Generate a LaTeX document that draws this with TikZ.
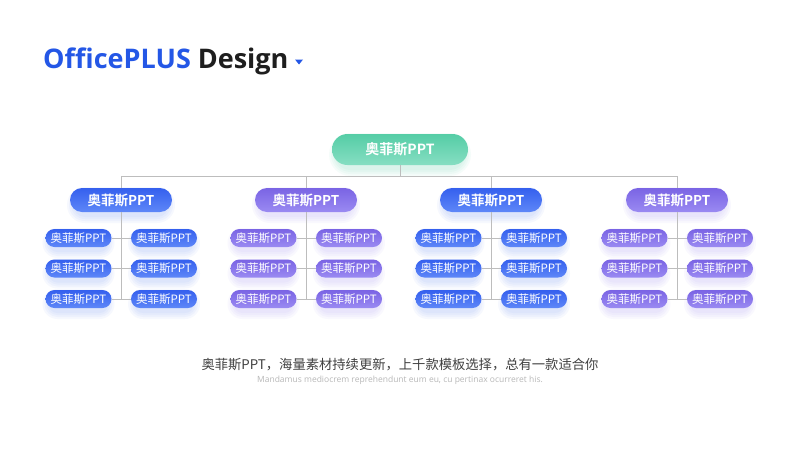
\documentclass[tikz,border=0pt]{standalone}
\usepackage{fontspec}
\setmainfont{Open Sans}
\newfontfamily\cjk{Noto Sans CJK SC}[BoldFont={Noto Sans CJK SC Bold}]
\newfontfamily\opensans{Open Sans}
\definecolor{titleblue}{HTML}{2457E6}
\definecolor{titleblack}{HTML}{1E1E1E}
\definecolor{greenT}{HTML}{55CDA6}
\definecolor{greenB}{HTML}{86DEC2}
\definecolor{blueT}{HTML}{3560EE}
\definecolor{blueB}{HTML}{5E87F8}
\definecolor{purpT}{HTML}{7A64E4}
\definecolor{purpB}{HTML}{9A8AF2}
\definecolor{linegray}{HTML}{BDBDBD}
\tikzset{
  gblue/.style={top color=blueT, bottom color=blueB},
  gpurp/.style={top color=purpT, bottom color=purpB},
  topbox/.style={rounded corners=15.5pt, minimum width=136pt, minimum height=31pt, inner sep=0pt,
     top color=greenT, bottom color=greenB, text=white, font=\cjk\bfseries\fontsize{14}{14}\selectfont},
  lvlbox/.style={rounded corners=12pt, minimum width=102pt, minimum height=24pt, inner sep=0pt,
     text=white, font=\cjk\bfseries\fontsize{13.5}{13.5}\selectfont},
  leafbox/.style={rounded corners=9pt, minimum width=66pt, minimum height=18pt, inner sep=0pt,
     text=white, font=\cjk\fontsize{11.5}{11.5}\selectfont},
  conn/.style={draw=linegray, line width=0.9pt}
}
% soft coloured shadow: x, y, width, height, colour
\newcommand\softshade[5]{%
  \foreach \k in {0,2,4,6}{%
    \pgfmathsetmacro\rr{#4/2+\k}%
    \fill[#5, opacity=0.055, rounded corners=\rr pt]
      ({#1-#3/2-\k},{#2+5-#4/2-\k}) rectangle ({#1+#3/2+\k},{#2+5+#4/2+\k});
  }%
}
\begin{document}
\begin{tikzpicture}[x=1pt,y=-1pt]
\useasboundingbox (0,0) rectangle (800,450);
\fill[white] (0,0) rectangle (800,450);
% title
\node[anchor=base west, inner sep=0pt] (title) at (43,68)
  {\fontsize{27}{27}\selectfont\bfseries\color{titleblue}OfficePLUS \color{titleblack}Design};
\fill[titleblue] (295,59.5) -- (303,59.5) -- (299,64.5) -- cycle;
% shadows
\softshade{400}{149.5}{130}{31}{greenT}
\foreach \cx/\col in {121/blueB, 306/purpB, 491/blueB, 677/purpB}{
  \softshade{\cx}{200}{96}{24}{\col}
  \foreach \yy in {238, 268.5, 299}{
    \softshade{\cx-42.5}{\yy}{60}{18}{\col}
    \softshade{\cx+43}{\yy}{60}{18}{\col}
  }
}
% top node
\node[topbox] (top) at (400,149.5) {奥菲斯PPT};
% groups
\foreach \i/\cx/\st in {1/121/gblue, 2/306/gpurp, 3/491/gblue, 4/677/gpurp}{
  \node[lvlbox, \st] (g\i) at (\cx,200) {奥菲斯PPT};
  \foreach \j/\yy in {1/238, 2/268.5, 3/299}{
    \node[leafbox, \st] (l\i\j) at (\cx-42.5,\yy) {奥菲斯PPT};
    \node[leafbox, \st] (r\i\j) at (\cx+43,\yy) {奥菲斯PPT};
  }
}
% connectors
\foreach \i in {1,2,3,4}{
  \draw[conn] (top.south) -- ++(0,11) -| (g\i.north);
  \draw[conn] (g\i.south) -- (g\i.south |- l\i3.east);
  \foreach \j in {1,2,3}{
    \draw[conn] (l\i\j.east) -- (r\i\j.west);
  }
}
% bottom texts
\node[text=titleblack!85, font=\cjk\fontsize{13.3}{13.3}\selectfont] (cap) at (400,365) {奥菲斯PPT，海量素材持续更新，上千款模板选择，总有一款适合你};
\node[text=black!28, font=\opensans\fontsize{8.5}{8.5}\selectfont] (sub) at (400,380) {Mandamus mediocrem reprehendunt eum eu, cu pertinax ocurreret his.};
\end{tikzpicture}
\end{document}
